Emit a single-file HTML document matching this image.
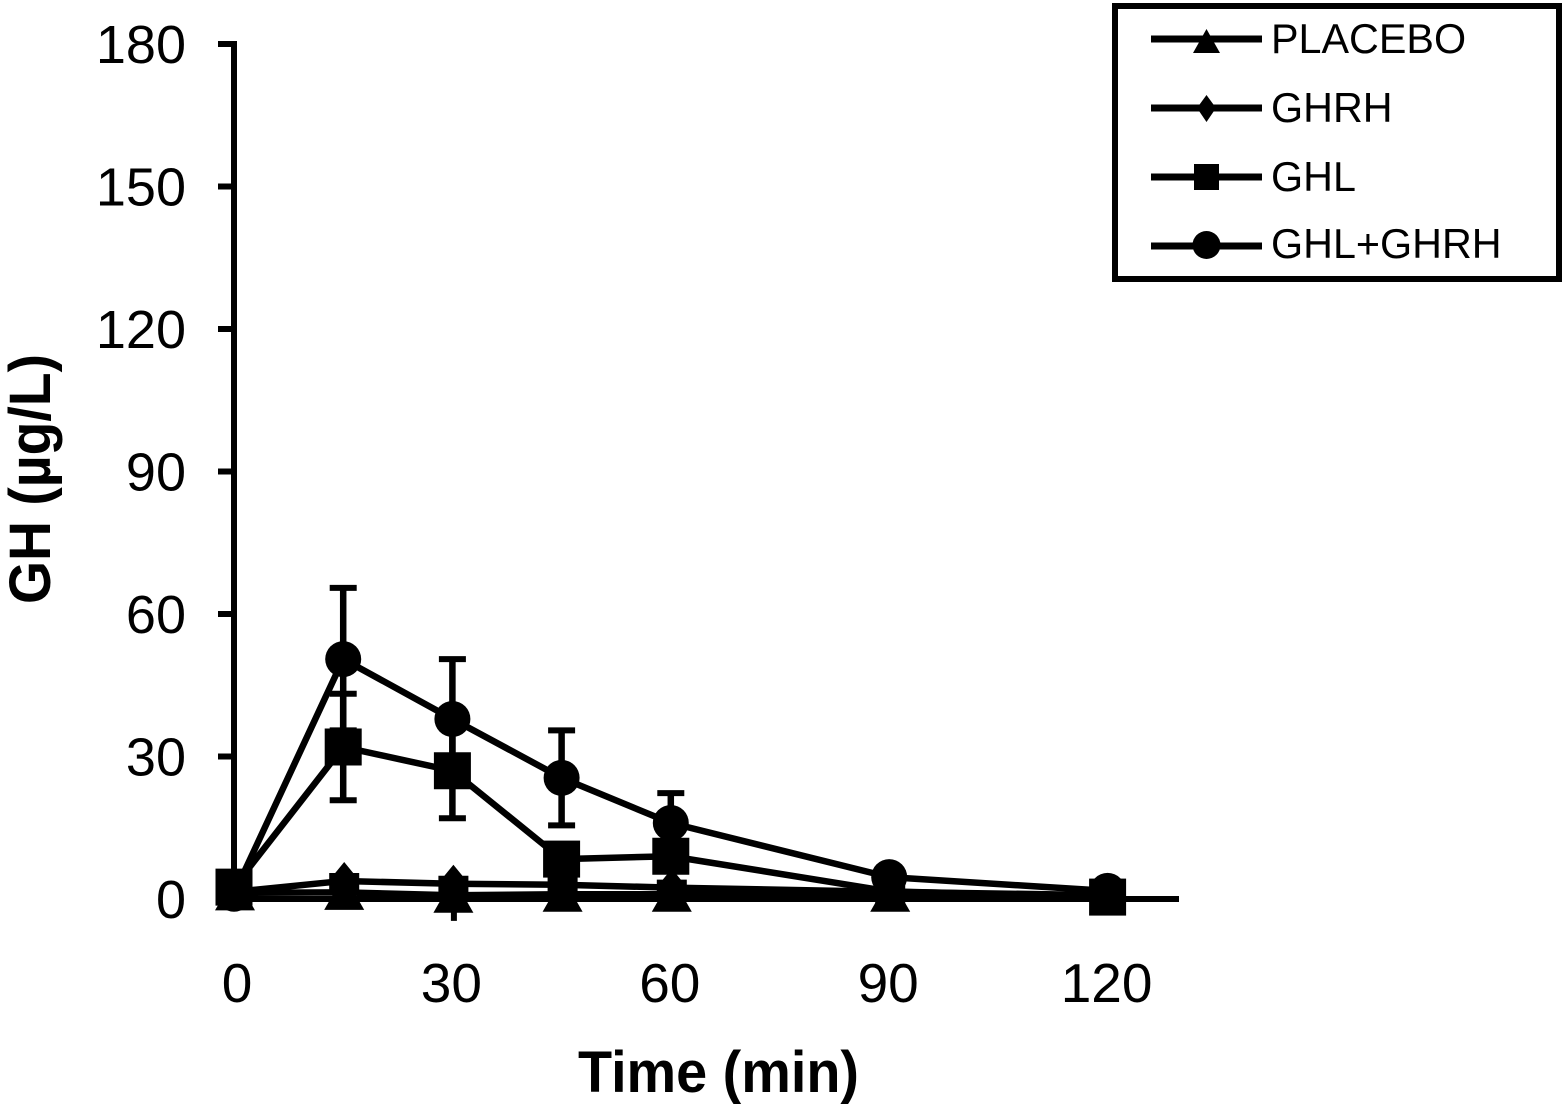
<!DOCTYPE html>
<html lang="en">
<head>
<meta charset="utf-8">
<title>GH over time</title>
<style>
html,body{margin:0;padding:0;background:#fff;}
svg{display:block;}
text{font-family:"Liberation Sans",Arial,sans-serif;fill:#000;}
</style>
</head>
<body>
<svg id="chart" xmlns="http://www.w3.org/2000/svg" width="1562" height="1104" viewBox="0 0 1562 1104">
  <rect x="0" y="0" width="1562" height="1104" fill="#fff"/>
  <g id="axes"></g>
  <g id="series"></g>
  <text transform="translate(50,604) rotate(-90)" font-size="58" font-weight="700" textLength="250" lengthAdjust="spacingAndGlyphs">GH (µg/L)</text>
  <text x="578" y="1092" font-size="58" font-weight="700" textLength="281" lengthAdjust="spacingAndGlyphs">Time (min)</text>
  <g>
    <rect x="1115" y="6" width="444" height="273" fill="#fff" stroke="#000" stroke-width="6"/>
    <g>
      <line x1="1151" y1="39" x2="1262" y2="39" stroke="#000" stroke-width="7"/>
      <polygon points="1206.5,29 1220,53 1193,53" fill="#000"/>
      <text x="1271" y="53" font-size="41.3">PLACEBO</text>
    </g>
    <g>
      <line x1="1151" y1="108" x2="1262" y2="108" stroke="#000" stroke-width="7"/>
      <polygon points="1206.5,95 1216,108 1206.5,122 1197,108" fill="#000"/>
      <text x="1271" y="122" font-size="41.3">GHRH</text>
    </g>
    <g>
      <line x1="1151" y1="177" x2="1262" y2="177" stroke="#000" stroke-width="7"/>
      <rect x="1194" y="164" width="25" height="26" fill="#000"/>
      <text x="1271" y="191" font-size="41.3">GHL</text>
    </g>
    <g>
      <line x1="1151" y1="246" x2="1262" y2="246" stroke="#000" stroke-width="7"/>
      <circle cx="1206.5" cy="245" r="14" fill="#000"/>
      <text x="1271" y="258" font-size="41.3">GHL+GHRH</text>
    </g>
  </g>
</svg>
<script>
var times = [0, 15, 30, 45, 60, 90, 120];
var yTickLabels = [0, 30, 60, 90, 120, 150, 180];
var xTickLabels = [0, 30, 60, 90, 120];

var placeboValues = [1.3, 1.4, 0.8, 1, 1, 1, 0.8];
var ghrhValues = [1.5, 3.8, 3.2, 3, 2.4, 1.5, 0.8];
var ghlValues = [2.5, 32, 27, 8.4, 9, 1.6, 0.4];
var comboValues = [1.1, 50.5, 37.9, 25.5, 16, 4.6, 1.7];

var ghlErrors = [0, 11.2, 10, 0, 0, 0, 0];
var comboErrors = [0, 15, 12.6, 10, 6.3, 0, 0];
var ghrhLowerStems = [0, 0, 7.8, 0, 0, 0, 0];

var placeboHiddenTimes = [120];
var ghrhHiddenTimes = [];
var ghlHiddenTimes = [90];
var comboHiddenTimes = [];

function xScale(t) { return 234 + t * 7.28; }
function yScale(v) { return 899 - v * 4.75; }

var NS = 'http://www.w3.org/2000/svg';
var axesGroup = document.getElementById('axes');
var seriesGroup = document.getElementById('series');

function make(tag, attrs, parent) {
  var el = document.createElementNS(NS, tag);
  for (var k in attrs) { el.setAttribute(k, attrs[k]); }
  parent.appendChild(el);
  return el;
}

function drawAxes() {
  var yLine = make('line', { x1: 234, y1: 41, x2: 234, y2: 902, stroke: '#000', 'stroke-width': 6 }, axesGroup);
  
  
  var xLine = make('line', { x1: 234, y1: 899, x2: 1179, y2: 899, stroke: '#000', 'stroke-width': 6 }, axesGroup);
  
  
  yTickLabels.forEach(function (v) {
    var tick = make('line', { x1: 218, y1: yScale(v), x2: 234, y2: yScale(v), stroke: '#000', 'stroke-width': 6 }, axesGroup);
    
    
    var label = make('text', { x: 186, y: yScale(v) + 19, 'text-anchor': 'end', 'font-size': 54 }, axesGroup);
    
    
    label.textContent = String(v);
  });
  xTickLabels.forEach(function (t) {
    var label = make('text', { x: xScale(t) + (t === 0 ? 3 : -1), y: 1002, 'text-anchor': 'middle', 'font-size': 55 }, axesGroup);
    
    
    label.textContent = String(t);
  });
}

function drawLine(values, name) {
  var pts = values.map(function (v, i) { return xScale(times[i]) + ',' + yScale(v); }).join(' ');
  var line = make('polyline', { points: pts, fill: 'none', stroke: '#000', 'stroke-width': 6.5, 'stroke-linejoin': 'round' }, seriesGroup);
  
  
}

function drawErrors(values, errors, name) {
  values.forEach(function (v, i) {
    if (!errors[i]) { return; }
    var x = xScale(times[i]);
    var top = yScale(v + errors[i]);
    var bottom = yScale(v - errors[i]);
    var stem = make('line', { x1: x, y1: top, x2: x, y2: bottom, stroke: '#000', 'stroke-width': 6.5 }, seriesGroup);
    
    
    var capTop = make('line', { x1: x - 13.5, y1: top, x2: x + 13.5, y2: top, stroke: '#000', 'stroke-width': 6 }, seriesGroup);
    
    
    var capBottom = make('line', { x1: x - 13.5, y1: bottom, x2: x + 13.5, y2: bottom, stroke: '#000', 'stroke-width': 6 }, seriesGroup);
    
    
  });
}

function drawStems(values, stems, name) {
  values.forEach(function (v, i) {
    if (!stems[i]) { return; }
    var x = xScale(times[i]) + 1.5;
    var stem = make('line', { x1: x, y1: yScale(v), x2: x, y2: yScale(v - stems[i]), stroke: '#000', 'stroke-width': 6 }, seriesGroup);
    
    
  });
}

function drawMarkers(values, shape, hidden, name) {
  values.forEach(function (v, i) {
    if (hidden.indexOf(times[i]) !== -1) { return; }
    var x = xScale(times[i]);
    var y = yScale(v);
    var m;
    if (shape === 'triangle') {
      m = make('polygon', { points: (x + 1) + ',' + (y - 17.5) + ' ' + (x + 21) + ',' + (y + 17.5) + ' ' + (x - 19) + ',' + (y + 17.5), fill: '#000' }, seriesGroup);
    } else if (shape === 'diamond') {
      var cx = x + 1;
      var outline = [[0, -19], [9, -8], [15, -8], [15, 12], [0, 19], [-15, 12], [-15, -8], [-9, -8]];
      m = make('polygon', { points: outline.map(function (p) { return (cx + p[0]) + ',' + (y + p[1]); }).join(' '), fill: '#000' }, seriesGroup);
    } else if (shape === 'square') {
      m = make('rect', { x: x - 18.5, y: y - 18.5, width: 37, height: 37, fill: '#000' }, seriesGroup);
    } else {
      m = make('circle', { cx: x, cy: y, r: 18, fill: '#000' }, seriesGroup);
    }
    
    
  });
}

drawAxes();
drawLine(placeboValues, 'placebo');
drawLine(ghrhValues, 'ghrh');
drawLine(ghlValues, 'ghl');
drawLine(comboValues, 'ghl-ghrh');
drawStems(ghrhValues, ghrhLowerStems, 'ghrh');
drawErrors(ghlValues, ghlErrors, 'ghl');
drawErrors(comboValues, comboErrors, 'ghl-ghrh');
drawMarkers(placeboValues, 'triangle', placeboHiddenTimes, 'placebo');
drawMarkers(ghrhValues, 'diamond', ghrhHiddenTimes, 'ghrh');
drawMarkers(ghlValues, 'square', ghlHiddenTimes, 'ghl');
drawMarkers(comboValues, 'circle', comboHiddenTimes, 'ghl-ghrh');
</script>
</body>
</html>
